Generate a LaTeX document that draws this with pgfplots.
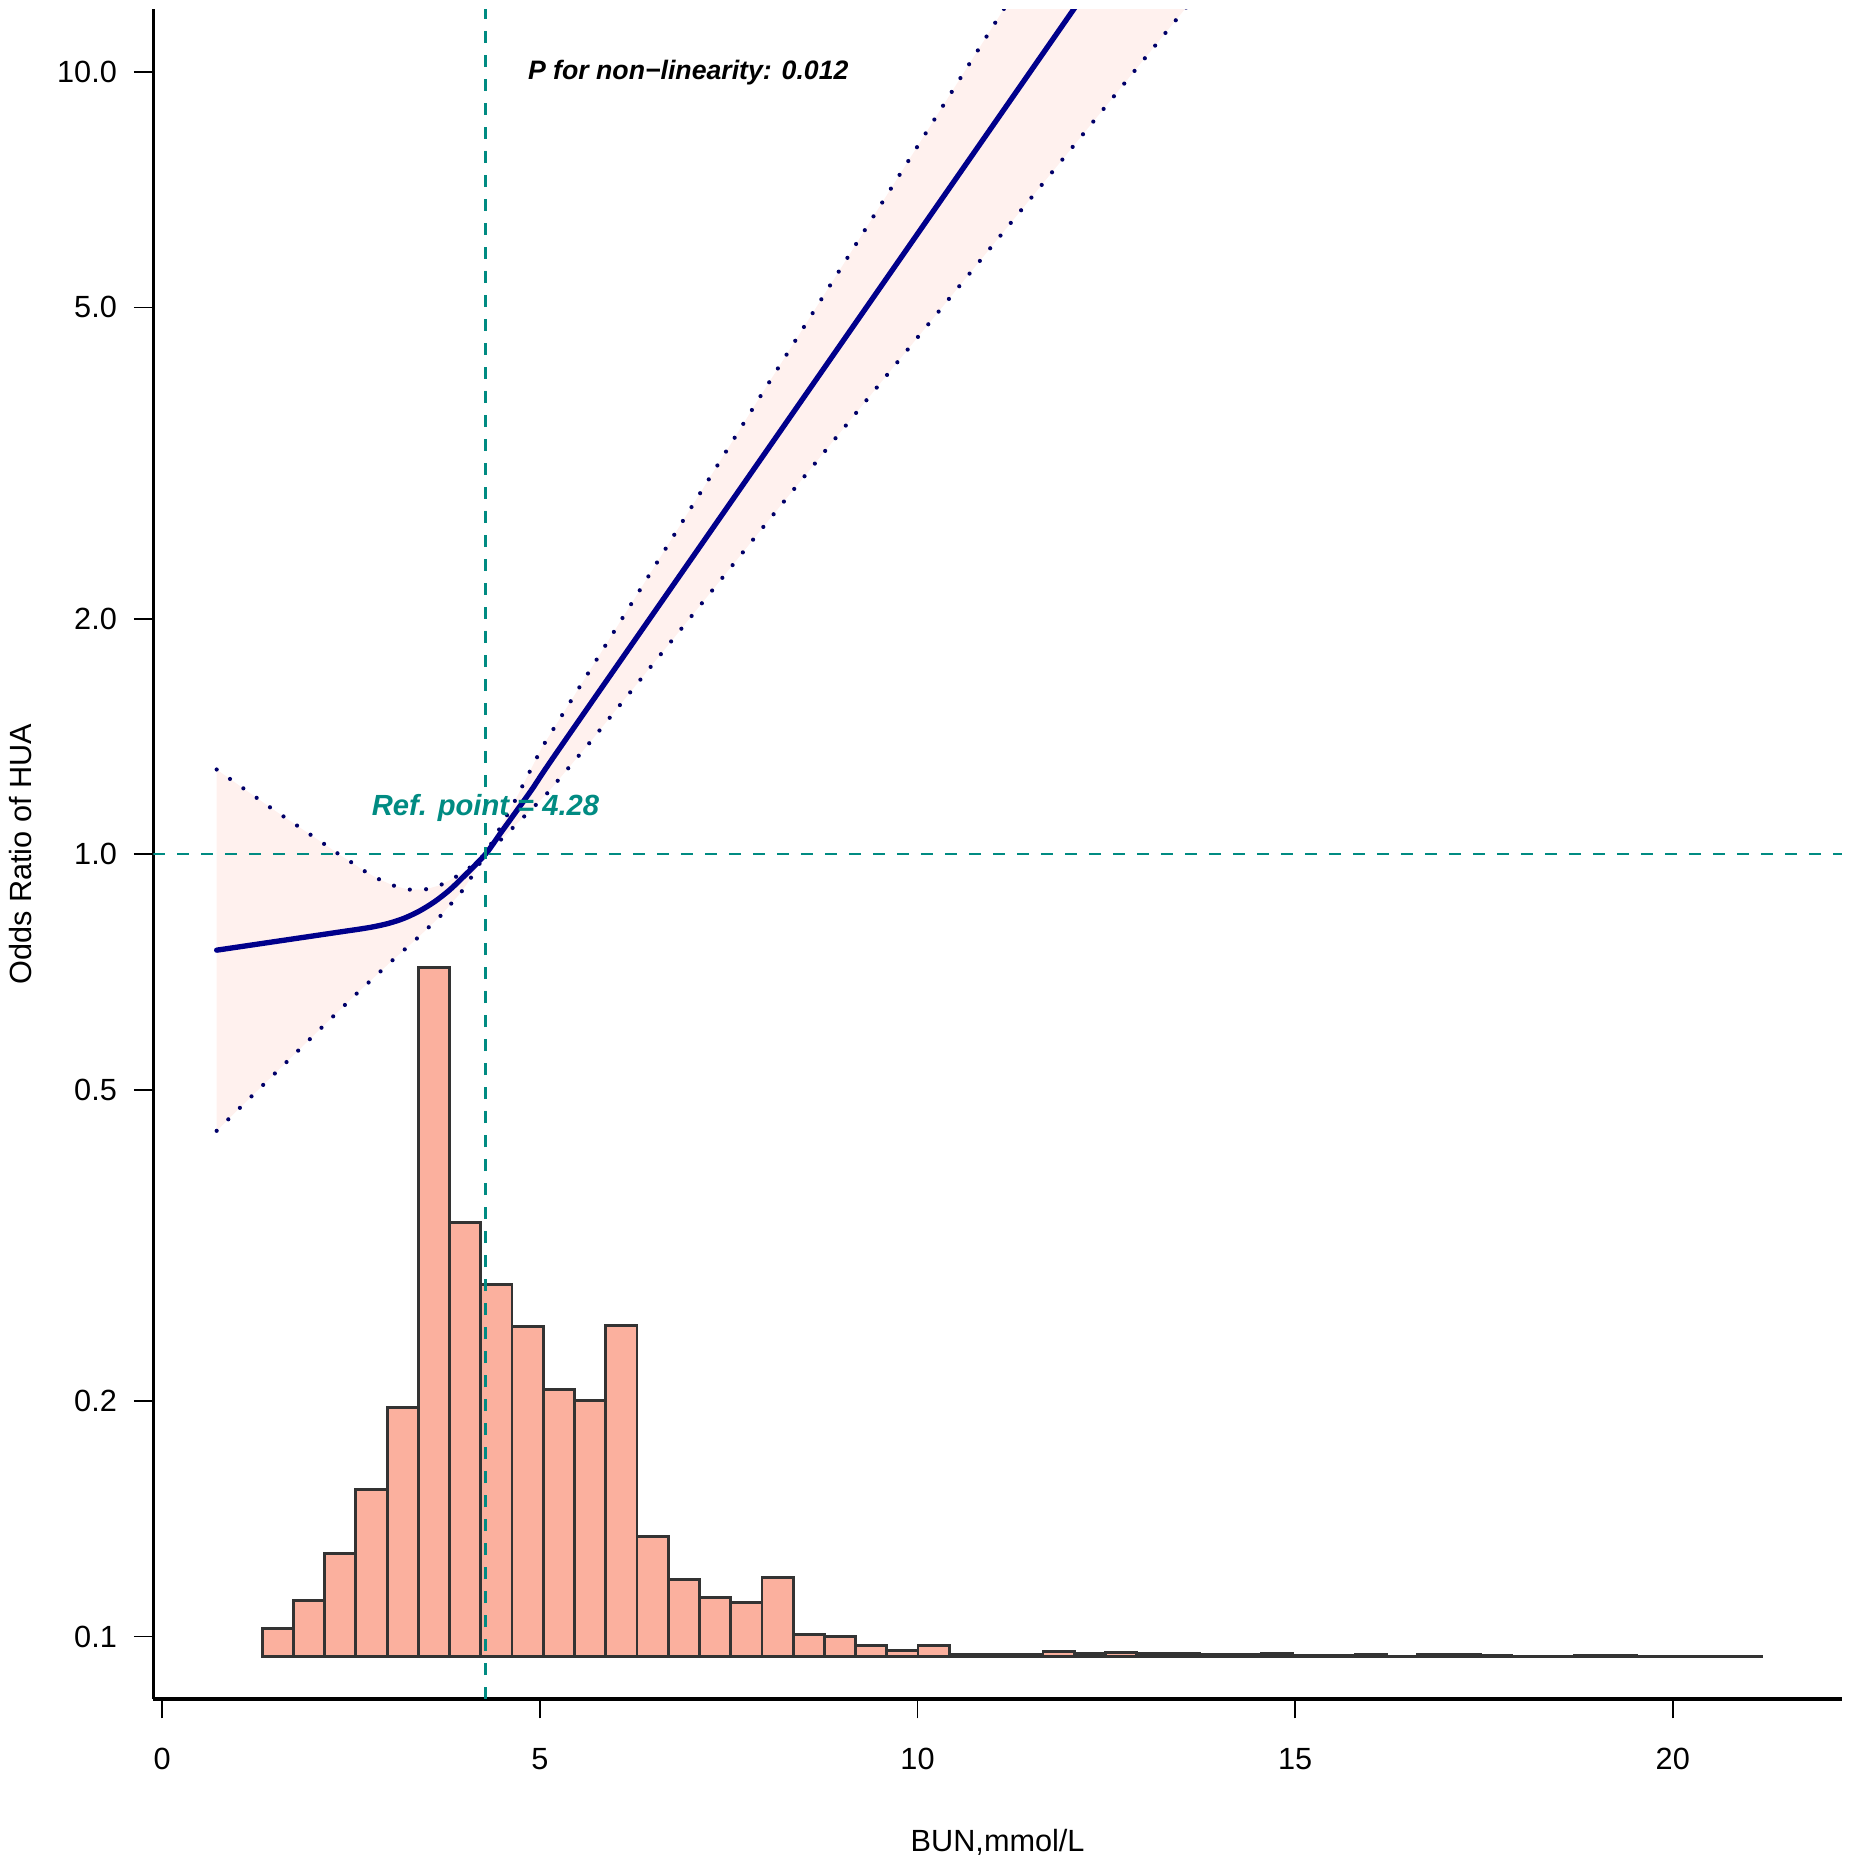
\documentclass[border=0pt]{standalone}
\usepackage{fontspec}
\setmainfont{Liberation Sans}
\usepackage{pgfplots}
\pgfplotsset{compat=1.18}
\definecolor{curveblue}{RGB}{0,0,139}
\definecolor{dotblue}{RGB}{0,0,105}
\definecolor{refteal}{RGB}{0,139,130}
\definecolor{cifill}{RGB}{255,241,238}
\definecolor{barfill}{RGB}{251,176,158}
\definecolor{bardraw}{RGB}{51,51,51}
\begin{document}
\begin{tikzpicture}
\useasboundingbox (0,0) rectangle (554.4pt,556.8pt);
% histogram layer (linear scale, heights in drawing units)
\begin{axis}[
  at={(45.99pt,47.1pt)}, anchor=south west,
  width=506.6pt, height=506.9pt, scale only axis,
  xmin=-0.118, xmax=22.24, ymin=-42.3, ymax=1647.4,
  hide axis]
\addplot[ybar interval, fill=barfill, draw=bardraw, line width=0.85pt] coordinates {
(1.324,28) (1.7375,56) (2.151,103) (2.5645,167) (2.978,249) (3.3915,689)
(3.805,434) (4.2185,372) (4.632,330) (5.0455,267) (5.459,256) (5.8725,331)
(6.286,120) (6.6995,77) (7.113,59) (7.5265,54) (7.94,79) (8.3535,21.8)
(8.767,19.8) (9.1805,10.8) (9.594,6.3) (10.0075,11.5) (10.421,2.7) (10.8345,2.5)
(11.248,2.5) (11.6615,5.3) (12.075,3.2) (12.4885,4.6) (12.902,2.8) (13.3155,2.8)
(13.729,2.1) (14.1425,1.8) (14.556,2.8) (14.9695,1.1) (15.383,1.5) (15.7965,2.1)
(16.21,0.5) (16.6235,2.1) (17.037,2.1) (17.4505,1.5) (17.864,0.3) (18.2775,0.3)
(18.691,1.5) (19.1045,1.5) (19.518,0.5) (19.9315,0.5) (20.345,0.3) (20.7585,0.3)
(21.172,0)};
\end{axis}
% main layer (log odds ratio)
\begin{axis}[
  at={(45.99pt,47.1pt)}, anchor=south west,
  width=506.6pt, height=506.9pt, scale only axis,
  xmin=-0.118, xmax=22.24, ymode=log, ymin=0.0832, ymax=12.02,
  axis x line*=bottom, axis y line*=left,
  axis line style={-, line width=1.05pt},
  every outer x axis line/.append style={-},
  every outer y axis line/.append style={-},
  xtick={0,5,10,15,20}, xticklabels={0,5,10,15,20},
  ytick={0.1,0.2,0.5,1,2,5,10}, yticklabels={0.1,0.2,0.5,1.0,2.0,5.0,10.0},
  yminorticks=false, xminorticks=false,
  tick align=outside, major tick length=5.8pt,
  tick style={line width=0.5pt, black},
  tick label style={font=\fontsize{9.2}{11}\selectfont},
  xticklabel style={yshift=-5.4pt},
  yticklabel style={xshift=-1.6pt},
  xlabel={BUN,mmol/L},
  xlabel style={at={(axis description cs:0.5,-0.09)}, anchor=base, font=\fontsize{9.2}{11}\selectfont},
  ylabel={Odds Ratio of HUA},
  ylabel style={at={(axis description cs:-0.072,0.5)}, anchor=base, font=\fontsize{9.2}{11}\selectfont},
]
% confidence band
\addplot[fill=cifill, draw=none] coordinates {
(0.721,1.283) (1.078,1.213) (1.427,1.148) (1.784,1.088) (2.141,1.031) (2.317,1.003)
(2.493,0.978) (2.674,0.952) (2.859,0.930) (3.057,0.912) (3.265,0.901) (3.476,0.901)
(3.684,0.913) (3.878,0.934) (4.059,0.959) (4.28,1.000) (4.66,1.165) (5.03,1.37)
(8,3.96) (11.15,12.06) (12,16.2)
(14,13.9) (13.55,12.06) (8,2.65) (5.632,1.378) (5.077,1.19) (4.464,1.039) (4.28,1.0)
(4.076,0.929) (3.958,0.894) (3.671,0.831) (3.358,0.778) (3.036,0.730) (2.564,0.662)
(2.101,0.599) (1.643,0.542) (1.180,0.490) (0.721,0.443)} -- cycle;
% upper bound
\addplot[dotblue, line width=1.25pt, line cap=round, dash pattern=on 0pt off 4.9pt] coordinates {
(0.721,1.283) (1.078,1.213) (1.427,1.148) (1.784,1.088) (2.141,1.031) (2.317,1.003)
(2.493,0.978) (2.674,0.952) (2.859,0.930) (3.057,0.912) (3.265,0.901) (3.476,0.901)
(3.684,0.913) (3.878,0.934) (4.059,0.959) (4.28,1.000) (4.66,1.165) (5.03,1.37)
(8,3.96) (11.15,12.06) (12,16.2)};
% lower bound
\addplot[dotblue, line width=1.25pt, line cap=round, dash pattern=on 0pt off 4.9pt] coordinates {
(0.721,0.443) (1.180,0.490) (1.643,0.542) (2.101,0.599) (2.564,0.662) (3.036,0.730)
(3.358,0.778) (3.671,0.831) (3.958,0.894) (4.076,0.929) (4.28,1.0) (4.464,1.039)
(5.077,1.19) (5.632,1.378) (8,2.65) (13.55,12.06) (14,13.9)};
% fitted curve
\addplot[curveblue, line width=1.6pt, smooth, tension=0.5, line cap=round] coordinates {
(0.721,0.754) (1.6,0.776) (2.4,0.7966) (2.6,0.8017) (2.8,0.8077) (3.0,0.8159)
(3.2,0.8279) (3.4,0.8453) (3.6,0.8686) (3.8,0.8991) (4.0,0.9380) (4.28,1.000)
(4.477,1.063) (4.698,1.138) (4.918,1.219) (5.337,1.399) (8,3.276) (10,6.207) (12.6,14.25)};
% reference lines
\addplot[refteal, line width=0.7pt, dash pattern=on 3.6pt off 3.6pt] coordinates {(-0.118,1) (22.24,1)};
\addplot[refteal, line width=0.7pt, dash pattern=on 3.6pt off 3.6pt] coordinates {(4.28,0.0832) (4.28,12.02)};
\node[anchor=base, inner sep=0pt, text=refteal, font=\fontsize{8.75}{10}\selectfont\bfseries\itshape] at (axis cs:4.28,1.122) {Ref. point = 4.28};
\node[anchor=base west, inner sep=0pt, font=\fontsize{8}{9.6}\selectfont\bfseries\itshape] at (axis cs:4.835,9.79) {P for non−linearity: 0.012};
\end{axis}
\end{tikzpicture}
\end{document}
